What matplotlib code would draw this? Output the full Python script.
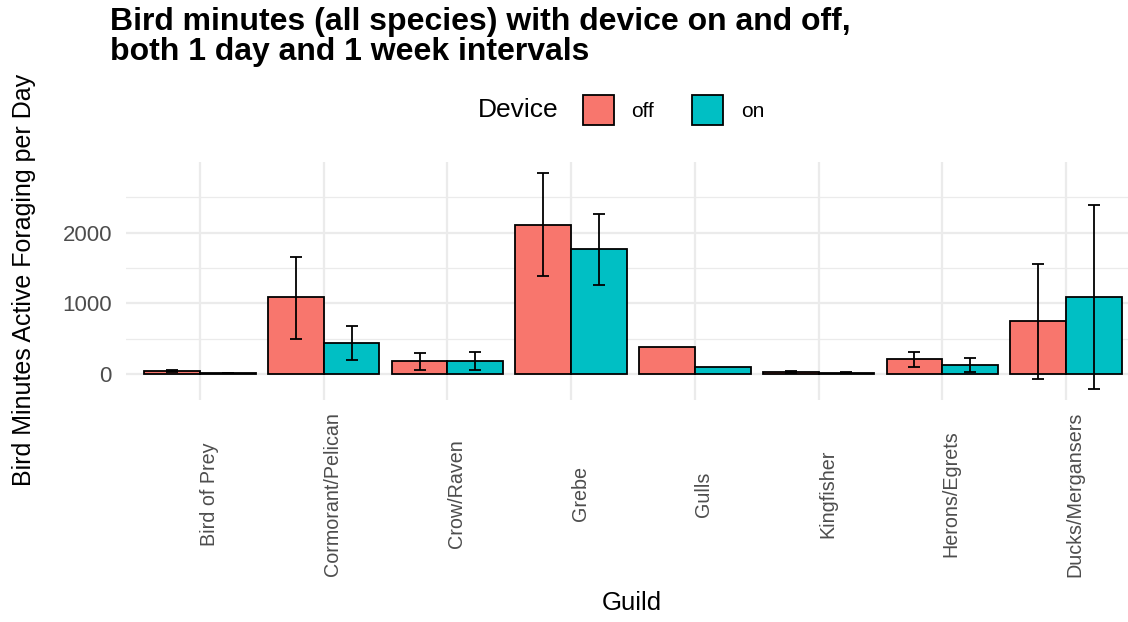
import numpy as np
import matplotlib
matplotlib.use("Agg")
import matplotlib.pyplot as plt
import matplotlib.transforms as mtrans
from matplotlib.patches import Rectangle

plt.rcParams['font.family'] = ['Liberation Sans', 'DejaVu Sans']

guilds = ["Bird of Prey", "Cormorant/Pelican", "Crow/Raven", "Grebe", "Gulls",
          "Kingfisher", "Herons/Egrets", "Ducks/Mergansers"]
off_mean = [40, 1090, 184, 2113, 382, 28, 212, 745]
off_lo = [28, 500, 57, 1382, np.nan, 18, 99, -71]
off_hi = [52, 1656, 297, 2844, np.nan, 38, 316, 1561]
on_mean = [14, 443, 184, 1769, 104, 20, 127, 1094]
on_lo = [8, 203, 52, 1264, np.nan, 14, 33, -208]
on_hi = [20, 684, 316, 2269, np.nan, 26, 231, 2391]

OFF_COL = "#F8766D"
ON_COL = "#00BFC4"
TICK_COL = "#4D4D4D"
W, H = 1128, 622


def fx(px):
    return px / W


def fy(py):
    return 1 - py / H


fig = plt.figure(figsize=(W / 100, H / 100), dpi=100)
left, right, top, bottom = 125.8, 1140.2, 162.2, 399.5
ax = fig.add_axes([fx(left), fy(bottom), fx(right) - fx(left), (bottom - top) / H])

x = np.arange(1, len(guilds) + 1)
bw = 0.45
bars_off = ax.bar(x - bw / 2, off_mean, bw, color=OFF_COL, edgecolor="black",
                  linewidth=1.3, zorder=3)
bars_on = ax.bar(x + bw / 2, on_mean, bw, color=ON_COL, edgecolor="black",
                 linewidth=1.3, zorder=3)


def errbars(xs, mean, lo, hi):
    mean = np.array(mean, float)
    lo = np.array(lo, float)
    hi = np.array(hi, float)
    ok = ~np.isnan(lo)
    ax.errorbar(xs[ok], mean[ok], yerr=[mean[ok] - lo[ok], hi[ok] - mean[ok]],
                fmt="none", ecolor="black", elinewidth=1.3, capsize=4.6,
                capthick=1.3, zorder=4)


errbars(x - bw / 2, off_mean, off_lo, off_hi)
errbars(x + bw / 2, on_mean, on_lo, on_hi)

ymin = min(np.nanmin(off_lo), np.nanmin(on_lo))
ymax = max(np.nanmax(off_hi), np.nanmax(on_hi))
pad = 0.05 * (ymax - ymin)
ax.set_ylim(ymin - pad, ymax + pad)
ax.set_xlim(0.4, len(guilds) + 0.6)

ax.set_yticks([0, 1000, 2000])
ax.set_yticks([500, 1500, 2500], minor=True)
ax.set_xticks(x)
ax.set_xticklabels(guilds, rotation=90, va="center", ha="center")
ax.tick_params(axis="x", length=0, pad=68, labelsize=14.2, labelcolor=TICK_COL)
ax.tick_params(axis="y", which="both", length=0, pad=10, labelsize=16,
               labelcolor=TICK_COL)

ax.grid(True, which="major", color="#EBEBEB", linewidth=1.6, zorder=0)
ax.grid(True, which="minor", axis="y", color="#EBEBEB", linewidth=0.9, zorder=0)
for s in ax.spines.values():
    s.set_visible(False)

# nudge the rotated category labels a little to the right
offset = mtrans.ScaledTranslation(9 / 100, 0, fig.dpi_scale_trans)
for lab in ax.get_xticklabels():
    lab.set_transform(lab.get_transform() + offset)

fig.text(fx(632), fy(603), "Guild", ha="center", va="center", fontsize=18.5)
fig.text(fx(24.5), fy(280), "Bird Minutes Active Foraging per Day", rotation=90,
         ha="center", va="center", fontsize=18)

title_lines = ["Bird minutes (all species) with device on and off,",
               "both 1 day and 1 week intervals"]
for line, base in zip(title_lines, [30, 60]):
    fig.text(fx(110), fy(base), line, ha="left", va="baseline", fontsize=23,
             fontweight="bold")

# legend
fig.text(fx(478), fy(117.3), "Device", ha="left", va="baseline", fontsize=19)
for bx, col, lab, lx in [(583, OFF_COL, "off", 631), (692, ON_COL, "on", 741)]:
    fig.add_artist(Rectangle((fx(bx), fy(125)), fx(31), 30 / H,
                             transform=fig.transFigure, facecolor=col,
                             edgecolor="black", linewidth=1.3))
    fig.text(fx(lx), fy(117), lab, ha="left", va="baseline", fontsize=15)

fig.savefig("out.png", dpi=100)
